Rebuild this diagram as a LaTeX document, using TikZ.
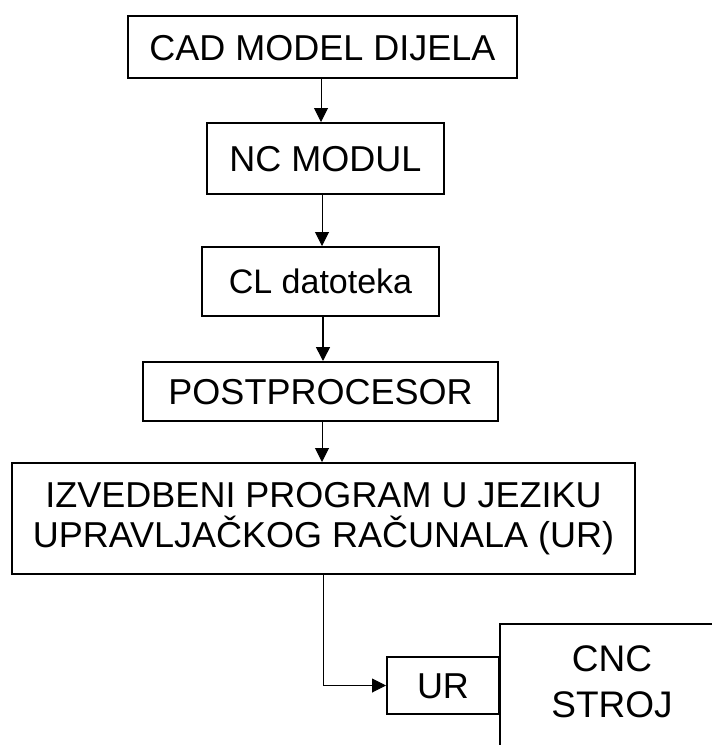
\documentclass[tikz,border=0pt]{standalone}
\usepackage{fontspec}
\setmainfont{Liberation Sans}
\usetikzlibrary{arrows.meta}

\begin{document}
\begin{tikzpicture}[x=1pt,y=-1pt,
    okvir/.style={draw, line width=2pt, inner sep=0pt, font=\fontsize{36}{40}\selectfont},
    blok/.style={okvir, text height=26pt, text depth=0pt},
    veza/.style={line width=1pt, -{Triangle[length=14pt,width=14pt]}}]
        \useasboundingbox (0,0) rectangle (712,745);
        \clip (0,0) rectangle (712,745);
        \fill[white] (0,0) rectangle (712,745);
        \node[blok, minimum width=389pt, minimum height=62pt] (cad) at (322.5,47) {CAD MODEL DIJELA};
        \node[blok, minimum width=237pt, minimum height=71pt] (nc) at (325.5,158.5) {NC MODUL};
        \node[blok, minimum width=237pt, minimum height=69pt, font=\fontsize{34}{40}\selectfont, text height=24pt] (cl) at (320.5,281.5) {CL datoteka};
        \node[blok, minimum width=355pt, minimum height=59pt] (post) at (320.5,391.5) {POSTPROCESOR};
        \node[okvir, align=center, minimum width=623pt, minimum height=111pt] (izv) at (323.5,518.5) {IZVEDBENI PROGRAM U JEZIKU\\UPRAVLJAČKOG RAČUNALA (UR)};
        \node[blok, minimum width=112pt, minimum height=57pt] (ur) at (443,685.5) {UR};
        \node[okvir, anchor=north west, minimum width=260pt, minimum height=180pt] (cnc) at (499,623) {};
        \node[font=\fontsize{37}{46}\selectfont, align=center, inner sep=0pt] (cnctekst) at (612,681.5) {CNC\\STROJ};
        \draw[veza] (cad.south -| 321,0) -- (nc.north -| 321,0);
        \draw[veza] (nc.south -| 322,0) -- (cl.north -| 322,0);
        \draw[veza, line width=1.6pt] (cl.south -| 323,0) -- (post.north -| 323,0);
        \draw[veza] (post.south -| 322,0) -- (izv.north -| 322,0);
        \draw[veza] (izv.south -| 323,0) |- (ur.west);
      \end{tikzpicture}
\end{document}
